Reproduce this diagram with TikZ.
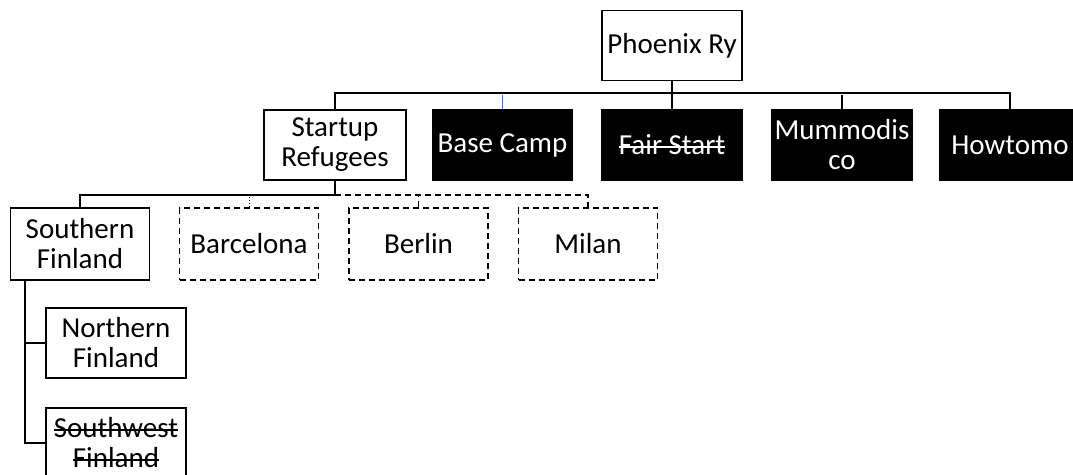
\documentclass[tikz,border=0pt]{standalone}
\usepackage{fontspec}
\setmainfont{Carlito}
\newcommand{\crossout}[1]{\setbox0\hbox{#1}\rlap{\raisebox{0.5ex}{\rule{\wd0}{1.6pt}}}\box0}
\tikzset{
    orgbox/.style={draw, line width=1.3pt, minimum width=140pt, minimum height=70pt,
        inner sep=0pt, align=center, font=\fontsize{29}{30}\selectfont},
    darkbox/.style={orgbox, fill=black, text=white},
    openbox/.style={orgbox, dashed, dash pattern=on 6pt off 4pt},
    link/.style={line width=1.8pt},
}
\begin{document}
\begin{tikzpicture}[x=1pt,y=-1pt]
\useasboundingbox (0,0) rectangle (1073,474);
\clip (0,0) rectangle (1073,474);

\node[orgbox] (phoenix) at (672,45.5) {Phoenix Ry};

\node[orgbox, minimum width=142pt] (startup) at (335,145) {Startup\\Refugees};
\foreach \x/\name/\ntext in {502.5/basecamp/Base Camp, 672/fairstart/\crossout{Fair Start}, 842/mummo/Mummodis\\co, 1010/howtomo/Howtomo}
{
    \node[darkbox] (\name) at (\x,145) {\ntext};
}

\node[orgbox, minimum width=139pt, minimum height=72pt] (south) at (80,244) {Southern\\Finland};
\foreach \x/\name/\ntext in {249/barca/Barcelona, 418.5/berlin/Berlin, 588/milan/Milan}
{
    \node[openbox, minimum width=139pt, minimum height=72pt] (\name) at (\x,244) {\ntext};
}

\node[orgbox] (north) at (116,343) {Northern\\Finland};
\node[orgbox] (southwest) at (116,443) {\crossout{Southwest}\\\crossout{Finland}};

% top level
\coordinate (bus1) at (0,95);
\draw[link] (startup.north) -- ++(0,-16) -| (howtomo.north);
\draw[link] (phoenix.south) -- (fairstart.north);
\draw[link] (mummo.north) -- (mummo.north |- bus1);
\draw[line width=0.9pt, color={rgb,255:red,68;green,114;blue,196}] (basecamp.north) -- (basecamp.north |- bus1);

% second level
\coordinate (bus2) at (0,195);
\draw[link] (startup.south) -- (startup.south |- bus2) -| (south.north);
\draw[link, dashed, dash pattern=on 6pt off 4pt] (startup.south |- bus2) -| (milan.north);
\draw[link, dashed, dash pattern=on 6pt off 4pt] (berlin.north) -- (berlin.north |- bus2);
\draw[line width=1pt, dotted] (barca.north) -- (barca.north |- bus2);

% finland
\coordinate (trunk) at (25,280);
\draw[link] (trunk) |- (southwest.west);
\draw[link] (trunk |- north.west) -- (north.west);
\end{tikzpicture}
\end{document}
